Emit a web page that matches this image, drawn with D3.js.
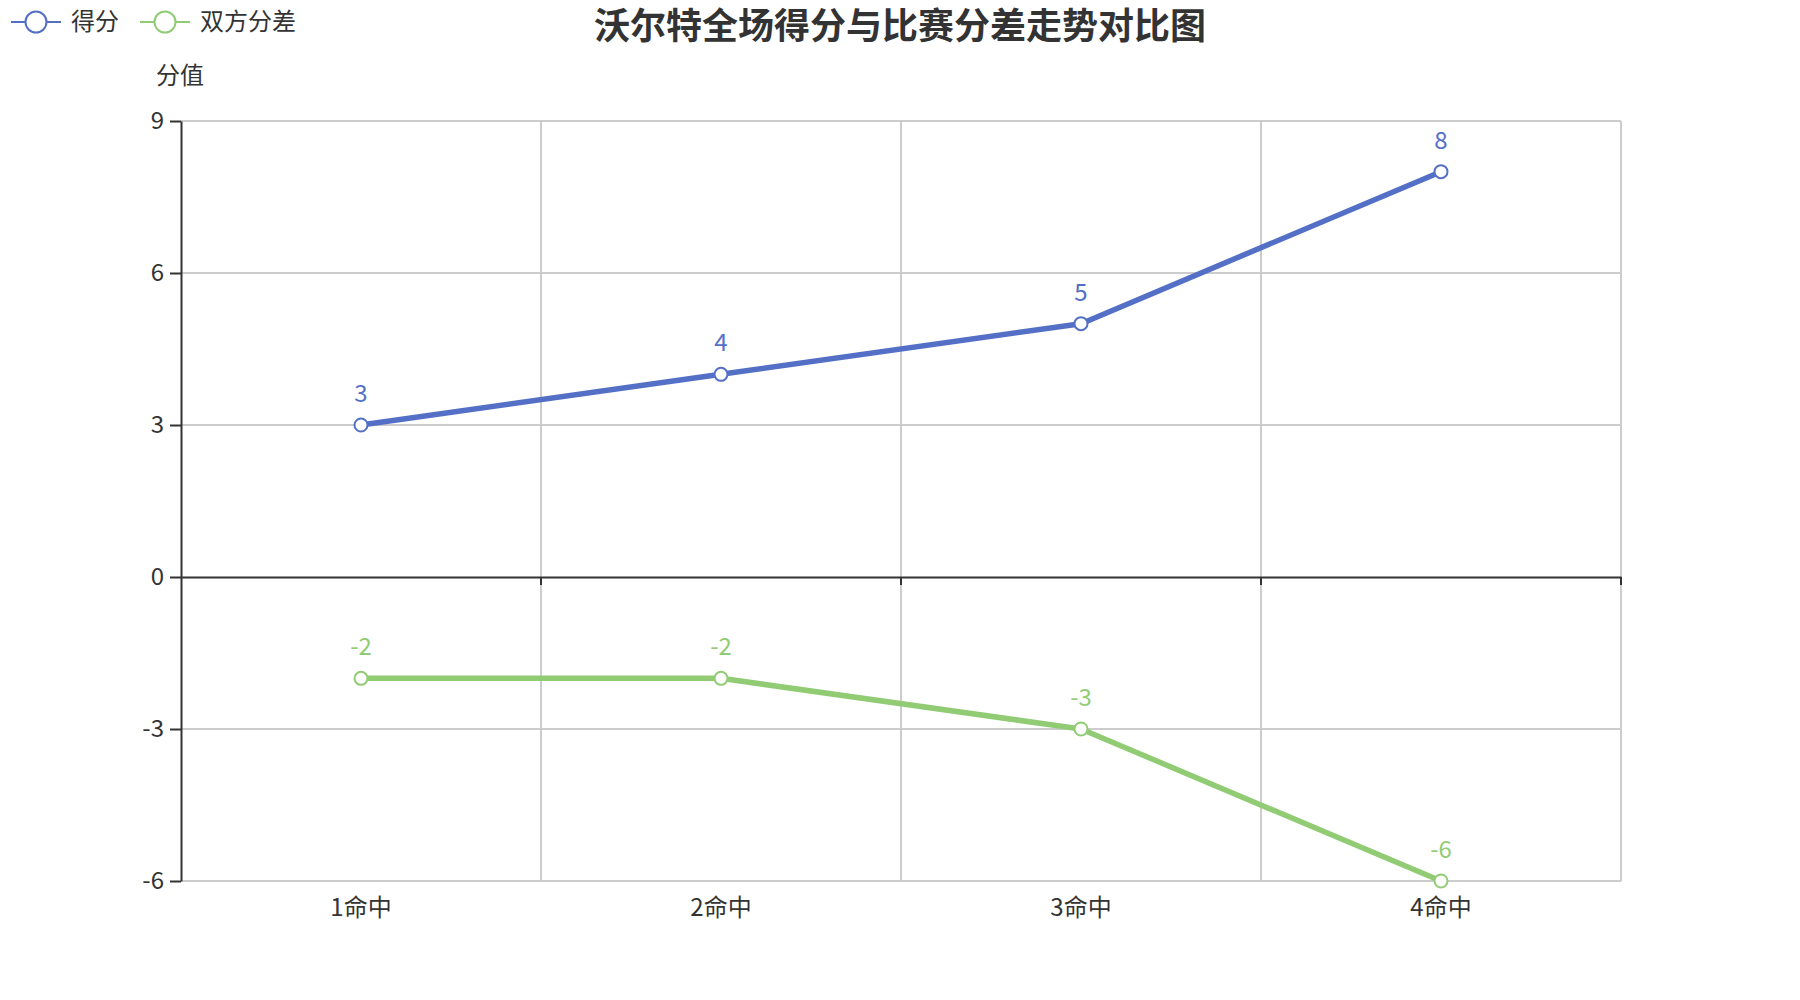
<!DOCTYPE html>
<html>
<head>
<meta charset="utf-8">
<script src="https://cdn.jsdelivr.net/npm/d3@7"></script>
<style>
  body { margin: 0; background: #fff; }
  svg { font-family: "Noto Sans CJK SC", "Noto Sans", sans-serif; }
</style>
</head>
<body>
<script>
// data
const categories = ["1命中", "2命中", "3命中", "4命中"];
const scoreValues = [3, 4, 5, 8];
const diffValues = [-2, -2, -3, -6];
const yTicks = [-6, -3, 0, 3, 6, 9];
const seriesNames = ["得分", "双方分差"];
const seriesColors = ["#5470c6", "#91cc75"];

const width = 1800;
const height = 1000;
const margin = { top: 121, right: 179, bottom: 119, left: 181 };
const innerW = width - margin.left - margin.right;
const innerH = height - margin.top - margin.bottom;

const svg = d3
  .select("body")
  .append("svg")
  .attr("width", width)
  .attr("height", height);

// title
svg
  .append("text")
  .attr("x", 900)
  .attr("y", 39)
  .attr("text-anchor", "middle")
  .attr("fill", "#333")
  .style("font-size", "36px")
  .style("font-weight", "bold")
  .text("沃尔特全场得分与比赛分差走势对比图");

// legend
const legendX = [11, 140];
const legend = svg
  .selectAll("g.legend")
  .data(seriesNames)
  .enter()
  .append("g")
  .attr("class", "legend")
  .attr("transform", (d, i) => `translate(${legendX[i]},22)`);
legend
  .append("line")
  .attr("x1", 0)
  .attr("x2", 50)
  .attr("stroke", (d, i) => seriesColors[i])
  .attr("stroke-width", 2);
legend
  .append("circle")
  .attr("cx", 25)
  .attr("r", 10.5)
  .attr("fill", "#fff")
  .attr("stroke", (d, i) => seriesColors[i])
  .attr("stroke-width", 2);
legend
  .append("text")
  .attr("x", 60)
  .attr("y", 8)
  .attr("fill", "#333")
  .style("font-size", "24px")
  .text((d) => d);

const g = svg
  .append("g")
  .attr("transform", `translate(${margin.left},${margin.top})`);

// scales
const xScale = d3.scaleBand().domain(categories).range([0, innerW]);
const yScale = d3.scaleLinear().domain([-6, 9]).range([innerH, 0]);
const cx = (c) => xScale(c) + xScale.bandwidth() / 2;

// horizontal grid
g.selectAll("line.hgrid")
  .data(yTicks.filter((t) => t !== 0))
  .enter()
  .append("line")
  .attr("class", "hgrid")
  .attr("x1", 0)
  .attr("x2", innerW)
  .attr("y1", (d) => yScale(d))
  .attr("y2", (d) => yScale(d))
  .attr("stroke", "#ccc")
  .attr("stroke-width", 2);

// vertical grid at band boundaries
g.selectAll("line.vgrid")
  .data(categories)
  .enter()
  .append("line")
  .attr("class", "vgrid")
  .attr("x1", (d) => xScale(d) + xScale.bandwidth())
  .attr("x2", (d) => xScale(d) + xScale.bandwidth())
  .attr("y1", 0)
  .attr("y2", innerH)
  .attr("stroke", "#ccc")
  .attr("stroke-width", 2);

// x axis at zero
const xAxis = d3
  .axisBottom(xScale)
  .tickSize(8)
  .tickSizeOuter(0)
  .tickFormat("");
const xAxisG = g
  .append("g")
  .attr("transform", `translate(0,${yScale(0)})`)
  .call(xAxis);
xAxisG.select(".domain").attr("stroke", "#333").attr("stroke-width", 2);
xAxisG
  .selectAll(".tick")
  .attr("transform", (d) => `translate(${xScale(d) + xScale.bandwidth()},0)`);
xAxisG.selectAll(".tick line").attr("stroke", "#333").attr("stroke-width", 2);

// category labels at bottom
g.selectAll("text.cat")
  .data(categories)
  .enter()
  .append("text")
  .attr("class", "cat")
  .attr("x", (d) => cx(d))
  .attr("y", innerH + 35)
  .attr("text-anchor", "middle")
  .attr("fill", "#333")
  .style("font-size", "24px")
  .text((d) => d);

// y axis
const yAxis = d3
  .axisLeft(yScale)
  .tickValues(yTicks)
  .tickSize(11)
  .tickSizeOuter(0)
  .tickPadding(6)
  .tickFormat((d) => String(d));
const yAxisG = g.append("g").call(yAxis);
yAxisG.select(".domain").attr("stroke", "#333").attr("stroke-width", 2);
yAxisG.selectAll(".tick line").attr("stroke", "#333").attr("stroke-width", 2);
yAxisG
  .selectAll(".tick text")
  .attr("fill", "#333")
  .style("font-size", "24px")
  .style("font-family", "'Noto Sans CJK SC', 'Noto Sans', sans-serif");

// y axis name
g.append("text")
  .attr("x", -1)
  .attr("y", -37)
  .attr("text-anchor", "middle")
  .attr("fill", "#333")
  .style("font-size", "24px")
  .text("分值");

// series
const series = [scoreValues, diffValues];
const line = d3
  .line()
  .x((d, i) => cx(categories[i]))
  .y((d) => yScale(d));

series.forEach((vals, si) => {
  g.append("path")
    .datum(vals)
    .attr("d", line)
    .attr("fill", "none")
    .attr("stroke", seriesColors[si])
    .attr("stroke-width", 5.5)
    .attr("stroke-linejoin", "round");

  g.selectAll(`circle.s${si}`)
    .data(vals)
    .enter()
    .append("circle")
    .attr("class", `s${si}`)
    .attr("cx", (d, i) => cx(categories[i]))
    .attr("cy", (d) => yScale(d))
    .attr("r", 6.5)
    .attr("fill", "#fff")
    .attr("stroke", seriesColors[si])
    .attr("stroke-width", 2);

  g.selectAll(`text.l${si}`)
    .data(vals)
    .enter()
    .append("text")
    .attr("class", `l${si}`)
    .attr("x", (d, i) => cx(categories[i]))
    .attr("y", (d) => yScale(d) - 23)
    .attr("text-anchor", "middle")
    .attr("fill", seriesColors[si])
    .style("font-size", "24px")
    .text((d) => d);
});
</script>
</body>
</html>
